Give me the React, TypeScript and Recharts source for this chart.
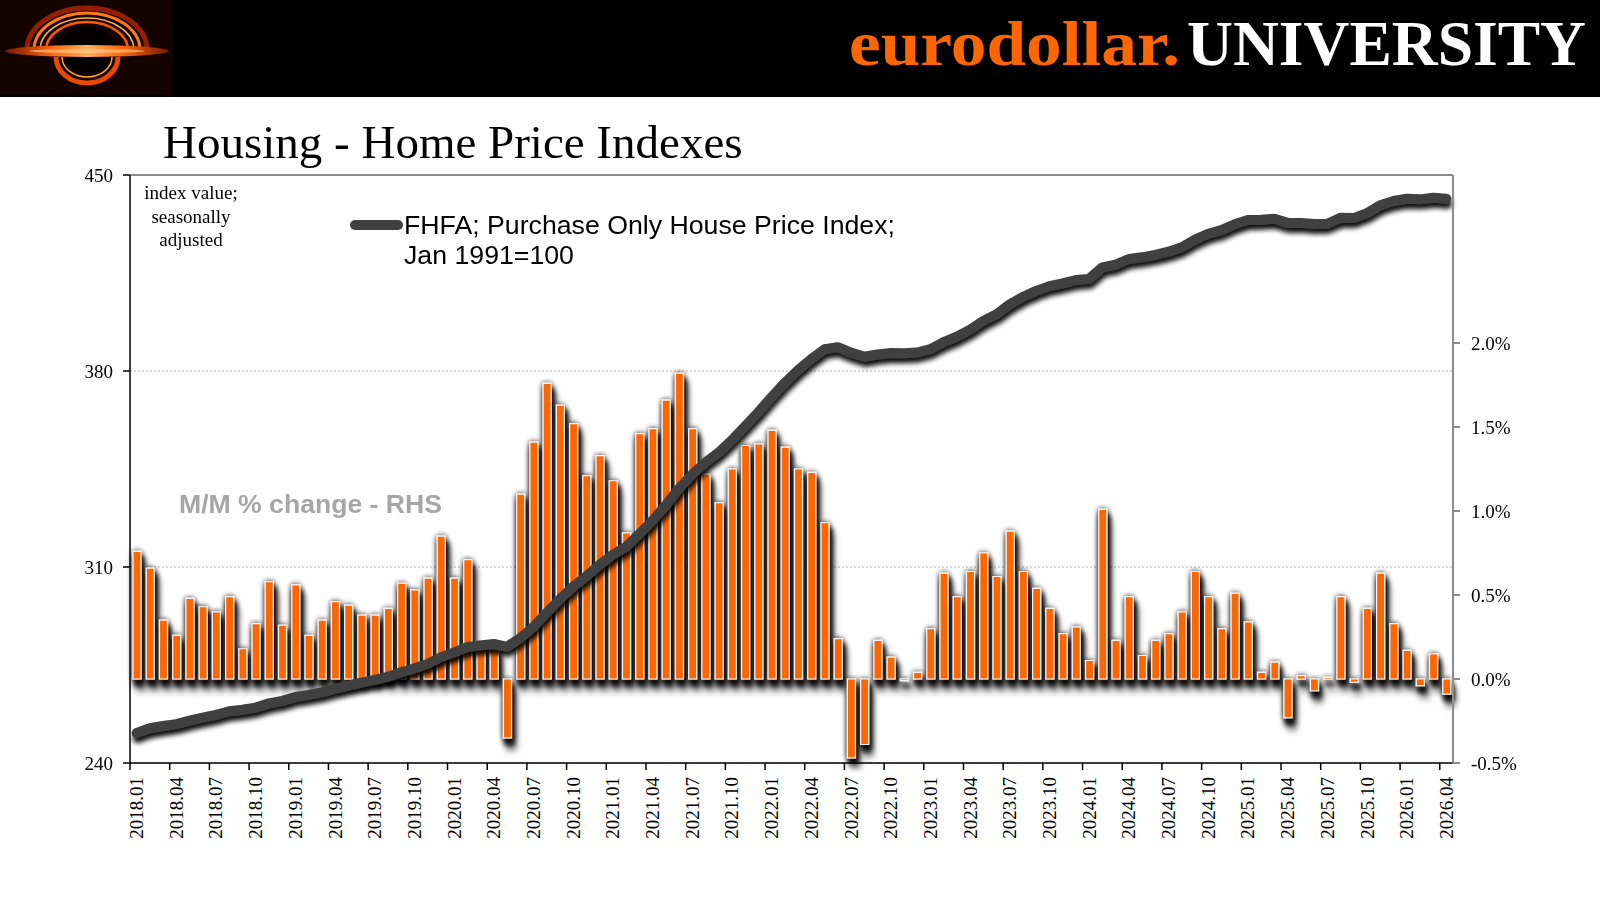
import React from "react";
import {
  ComposedChart,
  Bar,
  Line,
  XAxis,
  YAxis,
  CartesianGrid,
  ReferenceLine,
} from "recharts";

// month labels 2018.01 .. 2026.04
const months: string[] = [];
for (let y = 2018; y <= 2026; y++) {
  for (let m = 1; m <= 12; m++) {
    if (y === 2026 && m > 4) break;
    months.push(`${y}.${String(m).padStart(2, "0")}`);
  }
}

// FHFA purchase-only HPI, M/M % change (RHS)
const mmChange = [
  0.76, 0.66, 0.35, 0.26, 0.48, 0.43, 0.4, 0.49, 0.18, 0.33, 0.58, 0.32,
  0.56, 0.26, 0.35, 0.46, 0.44, 0.38, 0.38, 0.42, 0.57, 0.53, 0.6, 0.85,
  0.6, 0.71, 0.2, 0.18, -0.35, 1.1, 1.41, 1.76, 1.63, 1.52, 1.21, 1.33,
  1.18, 0.87, 1.46, 1.49, 1.66, 1.82, 1.49, 1.22, 1.05, 1.25, 1.39, 1.4,
  1.48, 1.38, 1.25, 1.23, 0.93, 0.24, -0.47, -0.39, 0.23, 0.13, -0.01, 0.04,
  0.3, 0.63, 0.49, 0.64, 0.75, 0.61, 0.88, 0.64, 0.54, 0.42, 0.27, 0.31,
  0.11, 1.01, 0.23, 0.49, 0.14, 0.23, 0.27, 0.4, 0.64, 0.49, 0.3, 0.51,
  0.34, 0.04, 0.1, -0.23, 0.02, -0.07, 0.01, 0.49, -0.02, 0.42, 0.63, 0.33,
  0.17, -0.04, 0.15, -0.09,
];

// index level, Jan 1991=100 (LHS)
const fhfaIndex = [
  250.7, 252.4, 253.2, 253.9, 255.1, 256.2, 257.2, 258.5, 259.0, 259.8, 261.3, 262.2,
  263.6, 264.3, 265.2, 266.5, 267.6, 268.7, 269.7, 270.8, 272.4, 273.8, 275.4, 277.8,
  279.5, 281.4, 282.0, 282.5, 281.5, 284.6, 288.6, 293.7, 298.5, 303.0, 306.7, 310.8,
  314.4, 317.2, 321.8, 326.6, 332.0, 338.1, 343.1, 347.3, 350.9, 355.3, 360.3, 365.3,
  370.7, 375.8, 380.3, 384.3, 387.8, 388.5, 386.6, 385.1, 385.9, 386.4, 386.3, 386.6,
  387.8, 390.3, 392.3, 394.8, 397.9, 400.3, 403.8, 406.5, 408.6, 410.3, 411.3, 412.5,
  412.9, 417.0, 418.0, 420.0, 420.6, 421.5, 422.6, 424.2, 426.9, 429.0, 430.3, 432.4,
  433.9, 434.0, 434.4, 432.9, 432.9, 432.5, 432.6, 434.7, 434.6, 436.4, 439.2, 440.7,
  441.5, 441.3, 441.9, 441.5,
];

const leftTicks = [240, 310, 380, 450];
const rightTicks = [-0.5, 0, 0.5, 1, 1.5, 2];

const data = months.map((month, i) => ({
  month,
  mm: mmChange[i],
  fhfa: fhfaIndex[i],
}));

const W = 1600;
const H = 900;
const PLOT_LEFT = 130;
const PLOT_RIGHT = 1453;
const PLOT_TOP = 175;
const PLOT_BOTTOM = 763;
const HALF_BAND = (PLOT_RIGHT - PLOT_LEFT) / months.length / 2;

const serif = "'Liberation Serif', 'Times New Roman', serif";
const sans = "'Liberation Sans', Arial, sans-serif";
const ORANGE = "#ff6600";

function MonthTick(props: any) {
  const { x, y, index, payload } = props;
  if (index % 3 !== 0) return null;
  const ty = y + 14;
  return (
    <g>
      <line x1={x - HALF_BAND} x2={x - HALF_BAND} y1={y} y2={y + 7} stroke="#000" strokeWidth={1.5} />
      <text
        x={x}
        y={ty}
        transform={`rotate(-90 ${x} ${ty})`}
        textAnchor="end"
        dominantBaseline="central"
        fontFamily={serif}
        fontSize={19}
        fill="#000"
      >
        {payload.value}
      </text>
    </g>
  );
}

function Logo() {
  return (
    <g>
      <defs>
        <linearGradient id="disk" x1="0" x2="1" y1="0" y2="0">
          <stop offset="0" stopColor="#7a1800" />
          <stop offset="0.3" stopColor="#ff6a10" />
          <stop offset="0.5" stopColor="#ffb060" />
          <stop offset="0.7" stopColor="#ff6a10" />
          <stop offset="1" stopColor="#7a1800" />
        </linearGradient>
      </defs>
      <rect x={0} y={0} width={173} height={95} fill="#140400" />
      <path d="M 27 50 A 60 42 0 0 1 147 50" fill="none" stroke="#a02400" strokeWidth={5} opacity={0.9} />
      <path d="M 34 50 A 53 37 0 0 1 140 50" fill="none" stroke="#ff7a1a" strokeWidth={3} />
      <path d="M 40 50 A 47 32 0 0 1 134 50" fill="none" stroke="#ffb060" strokeWidth={1.5} />
      <path d="M 46 50 A 41 28 0 0 1 128 50" fill="none" stroke="#ff5a00" strokeWidth={2.5} />
      <ellipse cx={87} cy={50} rx={31} ry={23} fill="#050000" />
      <path d="M 56 57 A 31 26 0 0 0 118 57" fill="none" stroke="#e84a00" strokeWidth={5} />
      <path d="M 62 57 A 25 20 0 0 0 112 57" fill="none" stroke="#ffa040" strokeWidth={1.5} />
      <ellipse cx={87} cy={51} rx={82} ry={6} fill="url(#disk)" />
      <ellipse cx={87} cy={51} rx={58} ry={2} fill="#ffd090" opacity={0.6} />
    </g>
  );
}

export default function App() {
  return (
    <div
      style={{
        position: "absolute",
        left: 0,
        top: 0,
        width: W,
        height: H,
        background: "#fff",
        overflow: "hidden",
      }}
    >
      <style>{`
        .mm-bars { filter: url(#barShadow); }
        .fhfa-line .recharts-line-curve { filter: url(#lineShadow); }
      `}</style>
      <svg width={0} height={0} style={{ position: "absolute" }}>
        <defs>
          <filter id="barShadow" filterUnits="userSpaceOnUse" x={0} y={0} width={W} height={H}>
            <feGaussianBlur in="SourceAlpha" stdDeviation={2.6} result="blur" />
            <feComponentTransfer in="blur" result="glow">
              <feFuncA type="linear" slope={0.45} />
            </feComponentTransfer>
            <feOffset in="blur" dx={2} dy={6} result="off" />
            <feComponentTransfer in="off" result="drop">
              <feFuncA type="linear" slope={0.75} />
            </feComponentTransfer>
            <feMerge>
              <feMergeNode in="glow" />
              <feMergeNode in="drop" />
              <feMergeNode in="SourceGraphic" />
            </feMerge>
          </filter>
          <filter id="lineShadow" filterUnits="userSpaceOnUse" x={0} y={0} width={W} height={H}>
            <feGaussianBlur in="SourceAlpha" stdDeviation={2.5} />
            <feOffset dx={1} dy={5} result="ob" />
            <feComponentTransfer>
              <feFuncA type="linear" slope={0.95} />
            </feComponentTransfer>
            <feMerge>
              <feMergeNode />
              <feMergeNode in="SourceGraphic" />
            </feMerge>
          </filter>
        </defs>
      </svg>

      <div style={{ position: "absolute", left: 0, top: 0 }}>
        <ComposedChart
          width={W}
          height={H}
          data={data}
          margin={{ top: PLOT_TOP, right: 0, bottom: H - PLOT_BOTTOM - 100, left: 0 }}
          barCategoryGap="35%"
        >
          <CartesianGrid
            yAxisId="left"
            vertical={false}
            stroke="#b0b0b0"
            strokeDasharray="2 2"
          />
          <XAxis
            dataKey="month"
            interval={0}
            height={100}
            tickLine={false}
            tickSize={0}
            tickMargin={0}
            axisLine={{ stroke: "#000", strokeWidth: 1.5 }}
            tick={<MonthTick />}
          />
          <YAxis
            yAxisId="left"
            domain={[240, 450]}
            ticks={leftTicks}
            width={PLOT_LEFT}
            tickSize={7}
            tickMargin={10}
            axisLine={{ stroke: "#000", strokeWidth: 1.5 }}
            tickLine={{ stroke: "#000", strokeWidth: 1.5 }}
            tick={{ fill: "#000", fontFamily: serif, fontSize: 19 }}
            allowDataOverflow
          />
          <YAxis
            yAxisId="right"
            orientation="right"
            domain={[-0.5, 3]}
            ticks={rightTicks}
            width={W - PLOT_RIGHT}
            tickSize={7}
            tickMargin={11}
            tickFormatter={(v: number) => `${v.toFixed(1)}%`}
            axisLine={{ stroke: "#8c8c8c", strokeWidth: 2 }}
            tickLine={{ stroke: "#8c8c8c", strokeWidth: 2 }}
            tick={{ fill: "#000", fontFamily: serif, fontSize: 19 }}
            allowDataOverflow
          />
          <ReferenceLine yAxisId="left" y={450} stroke="#8c8c8c" strokeWidth={2} />
          <Bar
            yAxisId="right"
            dataKey="mm"
            className="mm-bars"
            fill={ORANGE}
            stroke="#f4f4f4"
            strokeWidth={1.2}
            barSize={8}
            isAnimationActive={false}
          />
          <Line
            yAxisId="left"
            dataKey="fhfa"
            className="fhfa-line"
            type="linear"
            stroke="#404040"
            strokeWidth={10}
            strokeLinecap="round"
            strokeLinejoin="round"
            dot={false}
            activeDot={false}
            isAnimationActive={false}
          />
        </ComposedChart>
      </div>

      <svg
        width={W}
        height={H}
        style={{ position: "absolute", left: 0, top: 0, pointerEvents: "none" }}
      >
        <rect x={0} y={0} width={W} height={97} fill="#000" />
        <Logo />
        <text
          x={849}
          y={65}
          fontFamily={serif}
          fontWeight="bold"
          fontSize={63}
          fill={ORANGE}
          textLength={331}
          lengthAdjust="spacingAndGlyphs"
        >
          eurodollar.
        </text>
        <text
          x={1187}
          y={65}
          fontFamily={serif}
          fontWeight="bold"
          fontSize={63}
          fill="#fff"
          textLength={399}
          lengthAdjust="spacingAndGlyphs"
        >
          UNIVERSITY
        </text>

        <text x={163} y={158} fontFamily={serif} fontSize={47} fill="#000">
          Housing - Home Price Indexes
        </text>

        <g fontFamily={serif} fontSize={19} fill="#000" textAnchor="middle">
          <text x={191} y={199}>index value;</text>
          <text x={191} y={223}>seasonally</text>
          <text x={191} y={246}>adjusted</text>
        </g>

        <line x1={355} x2={398} y1={225} y2={225} stroke="#404040" strokeWidth={10} strokeLinecap="round" />
        <g fontFamily={sans} fontSize={26.7} fill="#000">
          <text x={404} y={234}>FHFA; Purchase Only House Price Index;</text>
          <text x={404} y={264}>Jan 1991=100</text>
        </g>

        <text x={179} y={513} fontFamily={sans} fontWeight="bold" fontSize={26.6} fill="#a6a6a6">
          M/M % change - RHS
        </text>
      </svg>
    </div>
  );
}
